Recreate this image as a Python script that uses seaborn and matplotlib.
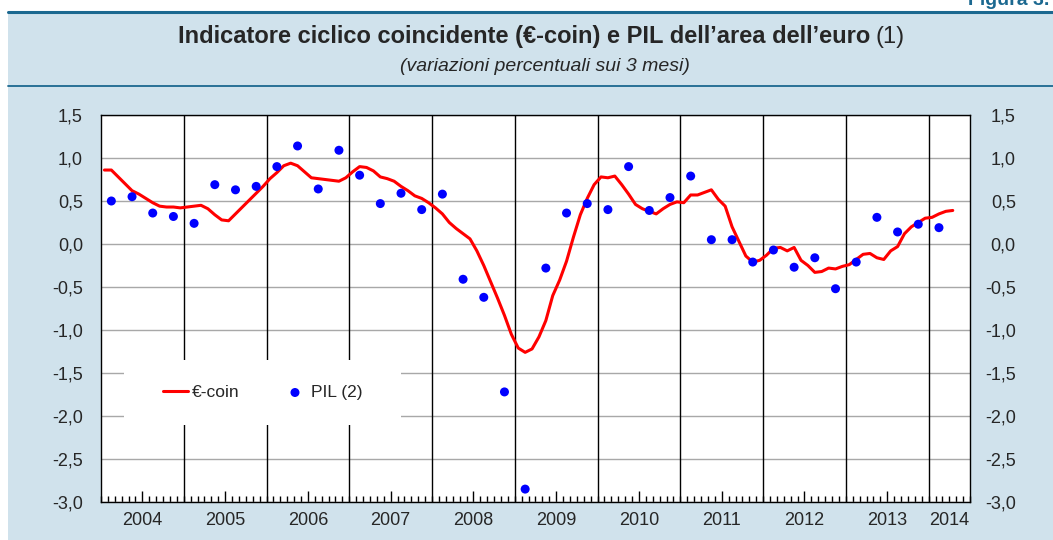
import matplotlib
matplotlib.use("Agg")
import matplotlib.pyplot as plt
import seaborn as sns
import numpy as np
import pandas as pd
from matplotlib.patches import Rectangle
from matplotlib.lines import Line2D
from matplotlib.ticker import FixedLocator

# ---------------- data ----------------
coin_start_year = 2004
coin_start_month = 1
coin_values = [
    0.86, 0.86, 0.78, 0.70, 0.62, 0.58, 0.53, 0.48, 0.44, 0.43, 0.43, 0.42,   # 2004
    0.43, 0.44, 0.45, 0.41, 0.34, 0.28, 0.27, 0.35, 0.43, 0.51, 0.59, 0.67,   # 2005
    0.76, 0.83, 0.91, 0.94, 0.91, 0.84, 0.77, 0.76, 0.75, 0.74, 0.73, 0.77,   # 2006
    0.84, 0.90, 0.89, 0.85, 0.78, 0.76, 0.73, 0.67, 0.62, 0.56, 0.53, 0.48,   # 2007
    0.42, 0.35, 0.25, 0.18, 0.12, 0.06, -0.08, -0.25, -0.44, -0.63, -0.83, -1.05,  # 2008
    -1.21, -1.26, -1.22, -1.08, -0.89, -0.60, -0.42, -0.20, 0.08, 0.34, 0.53, 0.69,  # 2009
    0.78, 0.77, 0.79, 0.69, 0.58, 0.46, 0.41, 0.38, 0.35, 0.41, 0.46, 0.49,   # 2010
    0.48, 0.57, 0.57, 0.60, 0.63, 0.52, 0.44, 0.20, 0.03, -0.14, -0.21, -0.19,  # 2011
    -0.13, -0.05, -0.04, -0.08, -0.04, -0.19, -0.25, -0.33, -0.32, -0.28, -0.29, -0.26,  # 2012
    -0.24, -0.18, -0.12, -0.11, -0.16, -0.18, -0.08, -0.03, 0.12, 0.20, 0.25, 0.30,  # 2013
    0.31, 0.35, 0.38, 0.39,                                                    # 2014
]

pil_start_year = 2004
pil_values = [
    0.50, 0.55, 0.36, 0.32,      # 2004
    0.24, 0.69, 0.63, 0.67,      # 2005
    0.90, 1.14, 0.64, 1.09,      # 2006
    0.80, 0.47, 0.59, 0.40,      # 2007
    0.58, -0.41, -0.62, -1.72,   # 2008
    -2.85, -0.28, 0.36, 0.47,    # 2009
    0.40, 0.90, 0.39, 0.54,      # 2010
    0.79, 0.05, 0.05, -0.21,     # 2011
    -0.07, -0.27, -0.16, -0.52,  # 2012
    -0.21, 0.31, 0.14, 0.23,     # 2013
    0.19,                        # 2014
]

year_labels = ["2004", "2005", "2006", "2007", "2008", "2009",
               "2010", "2011", "2012", "2013", "2014"]
y_ticks = [-3.0, -2.5, -2.0, -1.5, -1.0, -0.5, 0.0, 0.5, 1.0, 1.5]
series_names = ["€-coin", "PIL (2)"]

title_bold = "Indicatore ciclico coincidente (€-coin) e PIL dell’area dell’euro"
title_note = "(1)"
subtitle = "(variazioni percentuali sui 3 mesi)"
figure_tag = "Figura 3."

# ---------------- style ----------------
sns.set_style("white")
plt.rcParams["font.family"] = ["Liberation Sans", "DejaVu Sans"]

W, H = 1053, 540
BG = "#d0e2ec"
TEAL = "#1b6890"

coin_x = coin_start_year + (np.arange(len(coin_values)) + coin_start_month - 1 + 0.5) / 12.0
pil_x = pil_start_year + (np.arange(len(pil_values)) * 3 + 1.5) / 12.0
coin_df = pd.DataFrame({"x": coin_x, "val": coin_values})
pil_df = pd.DataFrame({"x": pil_x, "val": pil_values})

fig = plt.figure(figsize=(W / 100, H / 100), dpi=100)
fig.patch.set_facecolor("white")

# panel background and rules
fig.add_artist(Rectangle((8 / W, 0), 1 - 8 / W, 1 - 11 / H, transform=fig.transFigure,
                         facecolor=BG, edgecolor="none", zorder=0))
fig.add_artist(Line2D([8 / W, 1], [1 - 11.5 / H] * 2, transform=fig.transFigure,
                      color=TEAL, lw=2.2, zorder=1))
fig.add_artist(Line2D([8 / W, 1], [1 - 85.5 / H] * 2, transform=fig.transFigure,
                      color=TEAL, lw=1.3, zorder=1))
fig.text(968 / W, 1 - 5 / H, figure_tag, color=TEAL, fontsize=14, fontweight="bold",
         ha="left", va="baseline")

# title with mixed weights, centred
t1 = fig.text(0, 1 - 43 / H, title_bold, fontsize=17, fontweight="bold", ha="left", va="baseline")
t2 = fig.text(0, 1 - 43 / H, title_note, fontsize=17, ha="left", va="baseline")
renderer = fig.canvas.get_renderer()
w1 = t1.get_window_extent(renderer).width
w2 = t2.get_window_extent(renderer).width
gap = 5
start = 541 - (w1 + gap + w2) / 2
t1.set_x(start / W)
t2.set_x((start + w1 + gap) / W)
fig.text(545 / W, 1 - 71 / H, subtitle, fontsize=14, fontstyle="italic", ha="center", va="baseline")

# axes
ax = fig.add_axes([101 / W, 38 / H, 869 / W, 387 / H])
ax.set_facecolor("white")
ax.set_xlim(2004, 2014.5)
ax.set_ylim(-3, 1.5)
ax.set_axisbelow(True)
ax.yaxis.grid(True, color="#a8a8a8", lw=1)
ax.xaxis.grid(False)
for yr in year_labels[1:]:
    ax.axvline(int(yr), color="black", lw=1, zorder=1)

# white box behind the legend
ax.add_patch(Rectangle((0.026, 0.199), 0.319, 0.168, transform=ax.transAxes,
                       facecolor="white", edgecolor="none", zorder=2))

sns.lineplot(data=coin_df, x="x", y="val", color="#ff0000", lw=2.2, ax=ax,
             label=series_names[0], zorder=4)
sns.scatterplot(data=pil_df, x="x", y="val", color="#0000ff", s=42, edgecolor="none",
                ax=ax, label=series_names[1], zorder=5)
ax.set_xlabel("")
ax.set_ylabel("")

for sp in ax.spines.values():
    sp.set_color("black")
    sp.set_linewidth(1)
    sp.set_visible(True)

# x ticks
centers = [int(y) + 0.5 for y in year_labels[:-1]] + [int(year_labels[-1]) + 0.25]
ax.set_xticks(centers)
ax.set_xticklabels(year_labels)
ax.xaxis.set_minor_locator(FixedLocator(np.arange(2004, 2014.5 + 1e-6, 1 / 12)))
ax.tick_params(axis="x", which="major", direction="in", length=8, width=1, color="black",
               pad=7, labelsize=13, bottom=True, top=False)
ax.tick_params(axis="x", which="minor", direction="in", length=4.5, width=1, color="black",
               bottom=True, top=False)
ax.xaxis.get_major_ticks()[-1].tick1line.set_markersize(4.5)

# y ticks
fmt = lambda v: f"{v:.1f}".replace(".", ",")
ax.set_yticks(y_ticks)
ax.set_yticklabels([fmt(v) for v in y_ticks])
ax.tick_params(axis="y", length=0, pad=13, labelsize=13)

ax2 = ax.twinx()
ax2.set_ylim(-3, 1.5)
ax2.set_yticks(y_ticks)
ax2.set_yticklabels([fmt(v) for v in y_ticks])
ax2.tick_params(axis="y", length=0, pad=33, labelsize=13)
for lab in ax2.get_yticklabels():
    lab.set_horizontalalignment("right")
for sp in ax2.spines.values():
    sp.set_visible(False)

handles, labels = ax.get_legend_handles_labels()
leg = ax.legend(handles, labels, loc="center", bbox_to_anchor=(0.186, 0.283), ncol=2,
                frameon=False, fontsize=12.5, handlelength=1.45, handletextpad=0.2,
                columnspacing=2.5)
leg.set_zorder(6)

fig.savefig("out.png", dpi=100, facecolor="white")
